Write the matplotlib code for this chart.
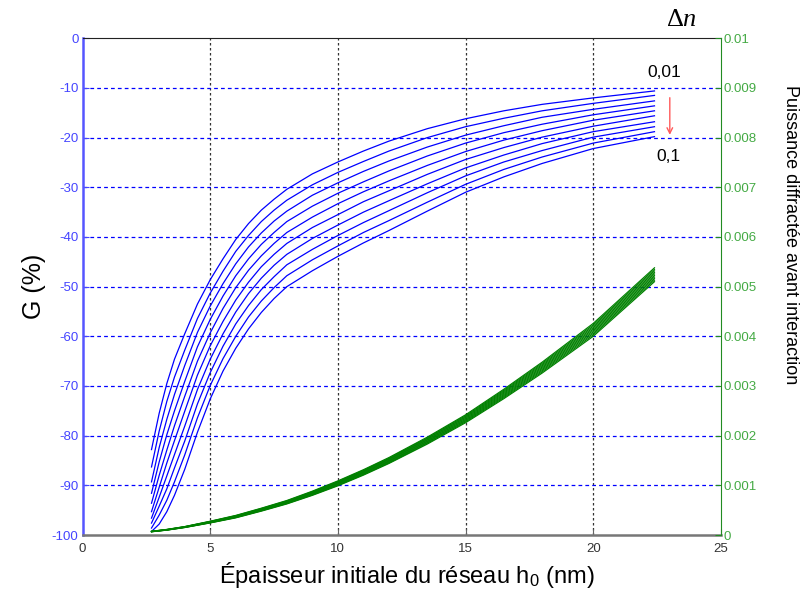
import matplotlib
matplotlib.use("Agg")
import matplotlib.pyplot as plt

plt.rcParams["font.family"] = ["Liberation Sans", "DejaVu Sans"]
plt.rcParams["axes.unicode_minus"] = False
plt.rcParams["mathtext.fontset"] = "custom"
plt.rcParams["mathtext.rm"] = "Liberation Sans"
plt.rcParams["mathtext.it"] = "Liberation Serif:italic"
plt.rcParams["mathtext.sf"] = "Liberation Serif"

# épaisseur h0 (nm)
h_blue = [2.7, 3.0, 3.3, 3.6, 4.0, 4.5, 5.0, 5.5, 6.0, 6.5, 7.0, 7.5, 8.0,
          9.0, 10.0, 11.0, 12.0, 13.5, 15.0, 16.5, 18.0, 20.0, 22.4]

# G (%) pour 10 valeurs de Δn (0,01 -> 0,1)
G = [
    [-82.8, -75.5, -69.5, -64.6, -59.5, -53.5, -48.6, -44.4, -40.5, -37.3, -34.6, -32.4, -30.4,
     -27.3, -24.9, -22.7, -20.7, -18.2, -16.2, -14.6, -13.3, -12.0, -10.6],
    [-86.3, -79.1, -73.1, -68.2, -62.8, -56.4, -51.3, -46.9, -42.9, -39.7, -36.9, -34.6, -32.6,
     -29.5, -27.0, -24.8, -22.7, -20.0, -17.8, -16.1, -14.6, -13.1, -11.5],
    [-89.3, -82.4, -76.7, -71.7, -65.9, -59.2, -53.9, -49.4, -45.4, -42.0, -39.2, -36.8, -34.8,
     -31.6, -29.1, -26.8, -24.7, -21.9, -19.5, -17.6, -15.9, -14.3, -12.6],
    [-91.6, -85.3, -79.8, -75.0, -69.1, -62.1, -56.6, -51.9, -47.8, -44.4, -41.5, -39.1, -36.9,
     -33.8, -31.2, -28.9, -26.7, -23.7, -21.1, -19.0, -17.3, -15.4, -13.6],
    [-93.6, -88.0, -82.9, -78.0, -72.1, -65.0, -59.3, -54.4, -50.2, -46.7, -43.8, -41.3, -39.1,
     -36.0, -33.3, -30.9, -28.7, -25.6, -22.8, -20.5, -18.6, -16.5, -14.6],
    [-95.3, -90.4, -85.5, -81.0, -75.1, -67.8, -61.9, -57.0, -52.7, -49.1, -46.0, -43.5, -41.3,
     -38.1, -35.5, -32.9, -30.7, -27.4, -24.4, -22.0, -19.9, -17.7, -15.6],
    [-96.6, -92.4, -88.1, -83.8, -78.1, -70.7, -64.6, -59.5, -55.1, -51.4, -48.3, -45.7, -43.5,
     -40.3, -37.6, -35.0, -32.7, -29.3, -26.1, -23.5, -21.2, -18.8, -16.8],
    [-97.6, -94.2, -90.7, -86.5, -81.1, -73.6, -67.3, -62.0, -57.5, -53.8, -50.6, -48.0, -45.6,
     -42.5, -39.7, -37.1, -34.7, -31.1, -27.7, -24.9, -22.6, -19.9, -17.8],
    [-98.6, -96.0, -93.0, -89.3, -83.9, -76.4, -69.9, -64.5, -60.0, -56.1, -52.9, -50.2, -47.8,
     -44.6, -41.8, -39.1, -36.7, -33.0, -29.4, -26.4, -23.9, -21.1, -18.8],
    [-99.3, -97.8, -95.3, -92.0, -86.8, -79.3, -72.6, -67.0, -62.4, -58.5, -55.2, -52.4, -50.0,
     -46.8, -43.9, -41.2, -38.7, -34.8, -31.0, -27.9, -25.2, -22.2, -19.8],
]

# puissance diffractée avant interaction (en 1e-6)
h_green = [2.7, 3.3, 4.0, 5.0, 6.0, 7.0, 8.0, 9.0, 10.0, 11.0, 12.0, 13.5, 15.0, 16.5, 18.0, 20.0, 22.4]
P_micro = [
    [65, 98, 150, 243, 345, 480, 625, 798, 990, 1205, 1440, 1830, 2260, 2745, 3260, 4000, 5100],
    [66, 99, 152, 246, 351, 487, 633, 807, 1001, 1217, 1453, 1846, 2278, 2766, 3284, 4029, 5131],
    [67, 101, 154, 250, 356, 493, 641, 816, 1012, 1229, 1467, 1861, 2296, 2787, 3309, 4058, 5162],
    [68, 103, 157, 254, 362, 500, 648, 826, 1023, 1242, 1480, 1877, 2313, 2808, 3333, 4087, 5193],
    [69, 104, 159, 258, 367, 507, 656, 835, 1034, 1254, 1493, 1892, 2331, 2829, 3358, 4116, 5224],
    [71, 106, 161, 262, 373, 513, 664, 845, 1046, 1266, 1507, 1908, 2349, 2851, 3382, 4144, 5256],
    [72, 108, 163, 266, 378, 520, 672, 854, 1057, 1278, 1520, 1923, 2367, 2872, 3407, 4173, 5287],
    [73, 109, 166, 270, 384, 527, 679, 864, 1068, 1291, 1533, 1939, 2384, 2893, 3431, 4202, 5318],
    [74, 111, 168, 274, 389, 533, 687, 873, 1079, 1303, 1547, 1954, 2402, 2914, 3456, 4231, 5349],
    [75, 113, 170, 278, 395, 540, 695, 883, 1090, 1315, 1560, 1970, 2420, 2935, 3480, 4260, 5380],
]

x_ticks = [0, 5, 10, 15, 20, 25]
left_ticks = [0, -10, -20, -30, -40, -50, -60, -70, -80, -90, -100]
right_ticks = [0, 0.001, 0.002, 0.003, 0.004, 0.005, 0.006, 0.007, 0.008, 0.009, 0.01]
right_labels = ["0", "0.001", "0.002", "0.003", "0.004", "0.005", "0.006", "0.007", "0.008", "0.009", "0.01"]

fig = plt.figure(figsize=(8.04, 5.90), dpi=100)
ax = fig.add_axes([0.1027, 0.0932, 0.7939, 0.8419])
ax2 = ax.twinx()

for g in G:
    ax.plot(h_blue, g, color="#0000ff", lw=0.9, zorder=3)
for p in P_micro:
    ax2.plot(h_green, [v * 1e-6 for v in p], color="#008000", lw=0.85)

ax.set_xlim(0, 25)
ax.set_ylim(-100, 0)
ax2.set_ylim(0, 0.01)
ax.set_xticks(x_ticks)
ax.set_yticks(left_ticks)
ax2.set_yticks(right_ticks)
ax2.set_yticklabels(right_labels)

# grille
for xv in x_ticks[1:-1]:
    ax.axvline(xv, color="#333333", lw=0.9, linestyle=(0, (2, 2)), zorder=1)
for yv in left_ticks[1:-1]:
    ax.axhline(yv, color="#0000ff", lw=0.9, linestyle=(0, (3, 2.5)), zorder=1)

ax.tick_params(axis="x", direction="in", length=4, colors="#666666", labelcolor="#333333",
               labelsize=9.5, pad=6)
ax.tick_params(axis="y", direction="in", length=4, colors="#4444ff", labelcolor="#4444ff",
               labelsize=9.5, pad=3)
ax2.tick_params(axis="y", direction="in", length=4, colors="#228b22", labelcolor="#44aa44",
                labelsize=9.5, pad=2)

ax.spines["left"].set_color("#5555ff")
ax.spines["left"].set_linewidth(1.8)
ax.spines["bottom"].set_color("#777777")
ax.spines["bottom"].set_linewidth(1.8)
ax.spines["top"].set_color("#222222")
ax.spines["right"].set_visible(False)
ax2.spines["left"].set_visible(False)
ax2.spines["bottom"].set_visible(False)
ax2.spines["top"].set_visible(False)
ax2.spines["right"].set_color("#228b22")

# annotations Δn
ax.annotate("", xy=(23.0, -20.0), xytext=(23.0, -11.4),
            arrowprops=dict(arrowstyle="->", color="#ff5a5a", lw=1))
ax.text(22.8, -6.9, "0,01", fontsize=12.5, ha="center", va="center")
ax.text(22.95, -23.8, "0,1", fontsize=12.5, ha="center", va="center")

fig.text(0.848, 0.968, r"$\mathsf{\Delta}n$", fontsize=19, ha="center", va="center")
fig.text(0.042, 0.515, "G (%)", fontsize=18, rotation=90, ha="center", va="center")
fig.text(0.983, 0.602, "Puissance diffractée avant interaction", fontsize=13,
         rotation=-90, ha="center", va="center")
fig.text(0.506, 0.026, r"Épaisseur initiale du réseau h$_0$ (nm)", fontsize=17,
         ha="center", va="center")

fig.savefig("out.png", dpi=100)
